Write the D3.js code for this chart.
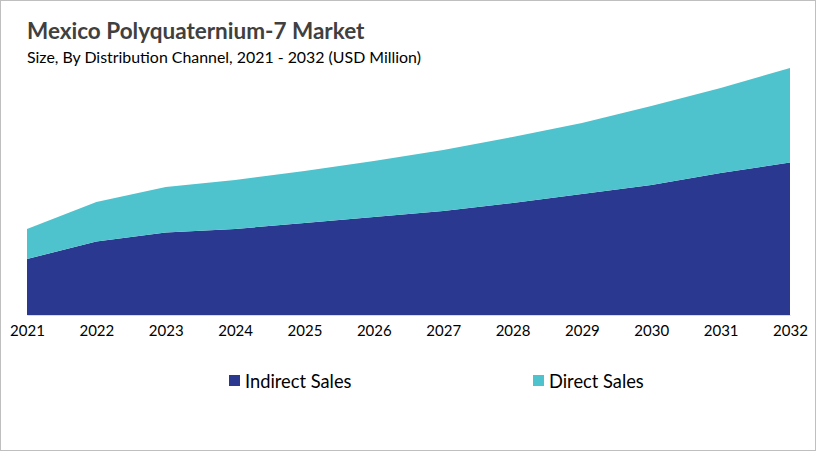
<!DOCTYPE html>
<html><head><meta charset="utf-8">
<script src="https://cdn.jsdelivr.net/npm/d3@7"></script>
<style>body{margin:0;background:#fff}svg{display:block}</style>
</head><body>
<svg id="c" width="817" height="452"></svg>
<script>
const years = ["2021","2022","2023","2024","2025","2026","2027","2028","2029","2030","2031","2032"];
const indirectSales = [5.6,7.35,8.25,8.6,9.2,9.8,10.4,11.2,12.1,13.0,14.2,15.25];
const directSales = [3.0,3.95,4.55,4.9,5.2,5.6,6.1,6.6,7.1,7.9,8.5,9.45];
const seriesNames = ["Indirect Sales","Direct Sales"];
const colors = ["#2b388f","#4fc3cd"];

const svg = d3.select("#c");
svg.append("rect").attr("x",0.5).attr("y",0.5).attr("width",815).attr("height",450)
  .attr("fill","#fff").attr("stroke","#bfbfbf");

const font = "Lato, 'Open Sans', sans-serif";
svg.append("text").attr("x",27).attr("y",39).attr("font-family",font).attr("font-weight","bold")
  .attr("font-size",22.5).attr("fill","#404040").text("Mexico Polyquaternium-7 Market");
svg.append("text").attr("x",27).attr("y",63).attr("font-family",font)
  .attr("font-size",15.9).attr("fill","#000").text("Size, By Distribution Channel, 2021 - 2032 (USD Million)");

const data = years.map((y,i)=>({year:y, "Indirect Sales":indirectSales[i], "Direct Sales":directSales[i]}));
const x = d3.scalePoint().domain(years).range([27,790]);
const y = d3.scaleLinear().domain([0,30]).range([315,15]);
const stack = d3.stack().keys(seriesNames)(data);
const area = d3.area().x(d=>x(d.data.year)).y0(d=>y(d[0])).y1(d=>y(d[1]));
svg.selectAll("path.a").data(stack).join("path").attr("class","a")
  .attr("d",area).attr("fill",(d,i)=>colors[i]);

const ax = svg.append("g").attr("transform","translate(0,315)")
  .call(d3.axisBottom(x).tickSize(0).tickPadding(10));
ax.select(".domain").attr("stroke","#d9d9d9");
ax.selectAll("text").attr("font-family",font).attr("font-size",15).attr("fill","#000");

const leg = [{x:229,tx:245},{x:533,tx:549}];
seriesNames.forEach((n,i)=>{
  svg.append("rect").attr("x",leg[i].x).attr("y",375).attr("width",11).attr("height",11).attr("fill",colors[i]);
  svg.append("text").attr("x",leg[i].tx).attr("y",388).attr("font-family",font).attr("font-size",18.3)
    .attr("fill","#000").text(n);
});
</script>
</body></html>
